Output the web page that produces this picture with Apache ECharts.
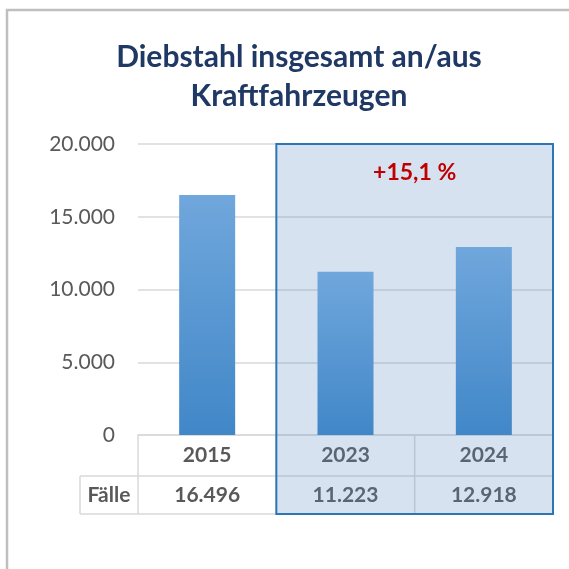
<!DOCTYPE html>
<html>
<head>
<meta charset="utf-8">
<script src="https://cdn.jsdelivr.net/npm/echarts@6/dist/echarts.min.js"></script>
<style>
    html, body { margin: 0; padding: 0; background: #fff; }
    #main { width: 569px; height: 569px; }
</style>
</head>
<body>
<div id="main"></div>
<script>
// Daten
const years = ['2015', '2023', '2024'];
const cases = [16496, 11223, 12918];
const yTicks = [0, 5000, 10000, 15000, 20000];
const rowLabel = 'Fälle';
const changeLabel = '+15,1 %';
const titleText = 'Diebstahl insgesamt an/aus\nKraftfahrzeugen';

const FONT = 'Lato';
const GREY_TEXT = '#595959';
const LINE = '#d9d9d9';

// Tausendertrennzeichen "."
function fmt(n) {
    return String(n).replace(/\B(?=(\d{3})+(?!\d))/g, '.');
}

const chart = echarts.init(document.getElementById('main'));

chart.setOption({
    animation: false,
    title: {
        text: titleText,
        left: 294,
        top: 33,
        textAlign: 'center',
        textStyle: {
            fontFamily: FONT, fontSize: 30, fontWeight: 'bold',
            color: '#1f3864', lineHeight: 39
        }
    },
    grid: { left: 138, right: 16, top: 144, bottom: 134 },
    xAxis: {
        type: 'category',
        data: years,
        axisLine: { lineStyle: { color: LINE, width: 1.5 } },
        axisTick: { show: false },
        axisLabel: { show: false }
    },
    yAxis: {
        type: 'value',
        min: yTicks[0],
        max: yTicks[yTicks.length - 1],
        interval: yTicks[1] - yTicks[0],
        axisLine: { show: false },
        axisTick: { show: false },
        splitLine: { lineStyle: { color: LINE, width: 1.5 } },
        axisLabel: {
            margin: 23,
            fontFamily: FONT, fontSize: 21, color: GREY_TEXT,
            formatter: v => fmt(v)
        }
    },
    series: [{
        type: 'bar',
        data: cases,
        barWidth: 56,
        z: 3,
        itemStyle: {
            color: new echarts.graphic.LinearGradient(0, 0, 0, 1, [
                { offset: 0, color: '#70a7dc' },
                { offset: 1, color: '#4187c8' }
            ]),
            shadowBlur: 6,
            shadowColor: 'rgba(0,0,0,0.3)',
            shadowOffsetX: 1,
            shadowOffsetY: 1
        }
    }]
});

// Tabelle + Hervorhebung unter dem Diagramm, Positionen über die Achse
function drawExtras() {
    const centers = years.map(y => chart.convertToPixel({ xAxisIndex: 0 }, y));
    const band = centers[1] - centers[0];
    const y0 = chart.convertToPixel({ yAxisIndex: 0 }, 0);
    const yTop = chart.convertToPixel({ yAxisIndex: 0 }, yTicks[yTicks.length - 1]);
    const row1 = y0 + 41;
    const row2 = row1 + 38;
    const left = centers[0] - band / 2;
    const right = centers[centers.length - 1] + band / 2;
    const labelLeft = 80;

    const els = [];
    const line = (x1, y1, x2, y2) => els.push({
        type: 'line', z: 0, silent: true,
        shape: { x1, y1, x2, y2 },
        style: { stroke: LINE, lineWidth: 1.5 }
    });
    const text = (x, y, t, color) => els.push({
        type: 'text', z: 0, silent: true, x, y,
        style: {
            text: t, align: 'center', verticalAlign: 'middle',
            font: 'bold 21px ' + FONT, fill: color || GREY_TEXT
        }
    });

    // Gitter der Tabelle
    line(left, row1, right, row1);
    line(labelLeft, row1, labelLeft, row2);
    line(labelLeft, row1, left, row1);
    line(labelLeft, row2, right, row2);
    for (let i = 0; i <= years.length; i++) {
        const x = left + i * band;
        line(x, y0, x, row2);
    }
    text((labelLeft + left) / 2, (row1 + row2) / 2, rowLabel);
    years.forEach((y, i) => {
        text(centers[i], (y0 + row1) / 2, y);
        text(centers[i], (row1 + row2) / 2, fmt(cases[i]));
    });

    // blauer Kasten 2023–2024
    const bx = centers[1] - band / 2;
    els.push({
        type: 'rect', z: 1, silent: true,
        shape: { x: bx, y: yTop, width: right - bx, height: row2 - yTop },
        style: { fill: 'rgba(91,140,196,0.25)', stroke: '#2e75b6', lineWidth: 2 }
    });
    els.push({
        type: 'text', z: 5, silent: true,
        x: (bx + right) / 2, y: yTop + 29,
        style: {
            text: changeLabel, align: 'center', verticalAlign: 'middle',
            font: 'bold 23px ' + FONT, fill: '#c00000'
        }
    });

    // Rahmen links/oben
    els.push({
        type: 'polyline', z: 0, silent: true,
        shape: { points: [[7, 569], [7, 10], [569, 10]] },
        style: { stroke: '#bfbfbf', lineWidth: 2.5, fill: null }
    });

    chart.setOption({ graphic: els });
}

drawExtras();
</script>
</body>
</html>
